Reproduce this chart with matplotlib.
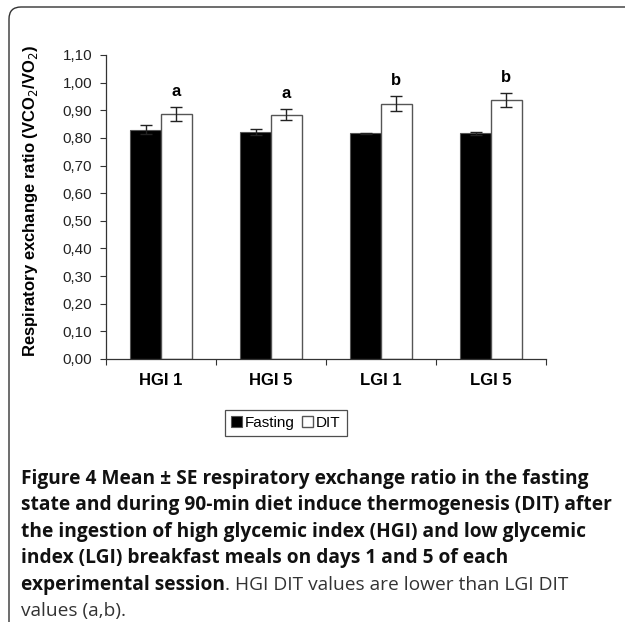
"""
Respiratory exchange ratio, fasting vs DIT, grouped bars with SE
"""

import matplotlib as mpl
import matplotlib.pyplot as plt
import numpy as np
from matplotlib.patches import PathPatch
from matplotlib.path import Path

mpl.rcParams['font.family'] = ['Liberation Sans Narrow', 'Liberation Sans', 'DejaVu Sans']

categories = ['HGI 1', 'HGI 5', 'LGI 1', 'LGI 5']
fasting = [0.830, 0.822, 0.816, 0.816]
fasting_se = [0.015, 0.011, 0.003, 0.006]
dit = [0.886, 0.884, 0.923, 0.937]
dit_se = [0.026, 0.020, 0.027, 0.026]
letters = ['a', 'a', 'b', 'b']
yticks = [0.0, 0.1, 0.2, 0.3, 0.4, 0.5, 0.6, 0.7, 0.8, 0.9, 1.0, 1.1]

W = H = 625.0


def fx(px):
    return px / W


def fy(py):
    return 1 - py / H


fig = plt.figure(figsize=(6.25, 6.25), dpi=100)
ax = fig.add_axes([fx(106), fy(359), 440 / W, 304 / H])

x = np.arange(len(categories))
bw = 0.28
ek = dict(ecolor='#222222', elinewidth=1.0, capsize=4.5, capthick=1.0)
ax.bar(x - bw / 2, fasting, bw, yerr=fasting_se, color='black',
       edgecolor='#555555', linewidth=0.8, error_kw=ek, label='Fasting')
ax.bar(x + bw / 2, dit, bw, yerr=dit_se, color='white',
       edgecolor='#555555', linewidth=1.0, error_kw=ek, label='DIT')

for xi, v, e, s in zip(x, dit, dit_se, letters):
    ax.text(xi + bw / 2, v + e + 0.03, s, ha='center', va='bottom',
            fontsize=12, fontweight='bold', family='Liberation Sans')

ax.set_xlim(-0.5, 3.5)
ax.set_ylim(0, 1.1)
ax.set_yticks(yticks)
ax.set_yticklabels(['{:.2f}'.format(t).replace('.', ',') for t in yticks],
                   fontsize=11, color='#222222')
ax.tick_params(axis='y', length=4, width=0.8, color='#333333', pad=6)
ax.set_xticks(x)
ax.set_xticklabels(categories, fontsize=12, fontweight='bold',
                   family='Liberation Sans')
ax.tick_params(axis='x', which='major', length=0, pad=10)
ax.set_xticks([-0.5, 0.5, 1.5, 2.5, 3.5], minor=True)
ax.tick_params(axis='x', which='minor', length=4, width=0.8, color='#333333')

for side in ('top', 'right'):
    ax.spines[side].set_visible(False)
for side in ('left', 'bottom'):
    ax.spines[side].set_color('#333333')
    ax.spines[side].set_linewidth(0.9)

ax.set_ylabel('Respiratory exchange ratio (VCO$_2$/VO$_2$)', fontsize=12,
              fontweight='bold', family='Liberation Sans')
ax.yaxis.set_label_coords((40 - 106) / 440, 0.52)

leg = ax.legend(loc='center', bbox_to_anchor=(fx(286), fy(423)),
                bbox_transform=fig.transFigure, ncol=2, fontsize=11,
                frameon=True, fancybox=False, handlelength=0.7,
                handleheight=0.7, handletextpad=0.2, columnspacing=0.5,
                borderpad=0.4, borderaxespad=0)
leg.get_frame().set_edgecolor('#222222')
leg.get_frame().set_linewidth(0.9)

# rounded frame round the figure
verts = [(fx(9), fy(622)), (fx(9), fy(19)), (fx(9), fy(7)), (fx(21), fy(7)),
         (fx(625), fy(7))]
codes = [Path.MOVETO, Path.LINETO, Path.CURVE3, Path.CURVE3, Path.LINETO]
fig.patches.append(PathPatch(Path(verts, codes), transform=fig.transFigure,
                             facecolor='none', edgecolor='#333333', lw=1.0))

# caption
cap_lines = [
    'Figure 4 Mean \u00b1 SE respiratory exchange ratio in the fasting',
    'state and during 90-min diet induce thermogenesis (DIT) after',
    'the ingestion of high glycemic index (HGI) and low glycemic',
    'index (LGI) breakfast meals on days 1 and 5 of each',
]
cap_x = fx(21)
cap_size = 13.8
y0 = 479
step = 26.4
for i, line in enumerate(cap_lines):
    fig.text(cap_x, fy(y0 + i * step), line, fontsize=cap_size,
             fontweight='bold', family='Open Sans', color='#111111',
             va='center')

renderer = fig.canvas.get_renderer()
t1 = fig.text(cap_x, fy(y0 + 4 * step), 'experimental session', fontsize=cap_size,
              fontweight='bold', family='Open Sans', color='#111111', va='center')
bb = t1.get_window_extent(renderer)
fig.text(bb.x1 / W, fy(y0 + 4 * step), '. HGI DIT values are lower than LGI DIT',
         fontsize=cap_size, family='Open Sans', color='#333333', va='center')
fig.text(cap_x, fy(y0 + 5 * step), 'values (a,b).', fontsize=cap_size,
         family='Open Sans', color='#333333', va='center')

fig.savefig('out.png', dpi=100)
